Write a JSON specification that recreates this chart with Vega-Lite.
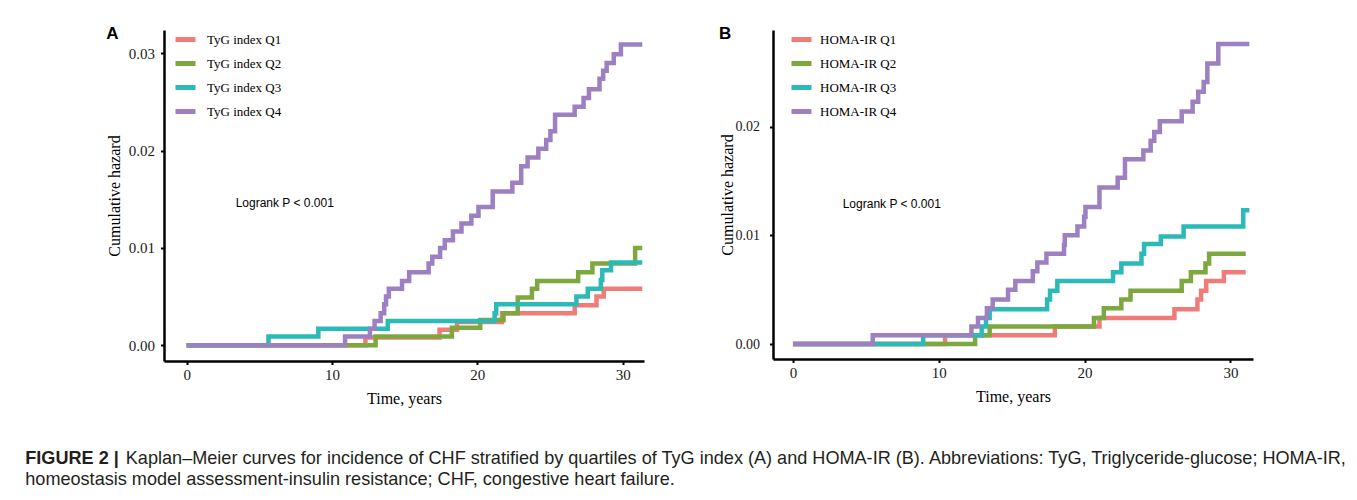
{
  "$schema": "https://vega.github.io/schema/vega-lite/v6.json",
  "padding": {"left": 25, "top": 25, "right": 5, "bottom": 5},
  "background": "white",
  "datasets": {
    "A": [
      {"g": "TyG index Q1", "t": 0, "h": 0}, {"g": "TyG index Q1", "t": 12.3, "h": 0.0008}, {"g": "TyG index Q1", "t": 17.4, "h": 0.0016}, {"g": "TyG index Q1", "t": 18.6, "h": 0.0024}, {"g": "TyG index Q1", "t": 21.7, "h": 0.0033}, {"g": "TyG index Q1", "t": 26.7, "h": 0.0041}, {"g": "TyG index Q1", "t": 28.2, "h": 0.005}, {"g": "TyG index Q1", "t": 28.7, "h": 0.0058}, {"g": "TyG index Q1", "t": 31.35, "h": 0.0058},
      {"g": "TyG index Q2", "t": 0, "h": 0}, {"g": "TyG index Q2", "t": 13.0, "h": 0.0009}, {"g": "TyG index Q2", "t": 18.25, "h": 0.0018}, {"g": "TyG index Q2", "t": 20.2, "h": 0.0026}, {"g": "TyG index Q2", "t": 21.8, "h": 0.0033}, {"g": "TyG index Q2", "t": 22.78, "h": 0.0049}, {"g": "TyG index Q2", "t": 23.76, "h": 0.0058}, {"g": "TyG index Q2", "t": 24.12, "h": 0.0066}, {"g": "TyG index Q2", "t": 26.94, "h": 0.0075}, {"g": "TyG index Q2", "t": 27.92, "h": 0.0084}, {"g": "TyG index Q2", "t": 30.86, "h": 0.01}, {"g": "TyG index Q2", "t": 31.35, "h": 0.01},
      {"g": "TyG index Q3", "t": 0, "h": 0}, {"g": "TyG index Q3", "t": 5.63, "h": 0.0009}, {"g": "TyG index Q3", "t": 9.06, "h": 0.0017}, {"g": "TyG index Q3", "t": 13.84, "h": 0.0025}, {"g": "TyG index Q3", "t": 21.19, "h": 0.0033}, {"g": "TyG index Q3", "t": 21.3, "h": 0.0042}, {"g": "TyG index Q3", "t": 26.82, "h": 0.005}, {"g": "TyG index Q3", "t": 27.6, "h": 0.0058}, {"g": "TyG index Q3", "t": 28.5, "h": 0.0067}, {"g": "TyG index Q3", "t": 28.6, "h": 0.0077}, {"g": "TyG index Q3", "t": 29.2, "h": 0.0085}, {"g": "TyG index Q3", "t": 31.35, "h": 0.0085},
      {"g": "TyG index Q4", "t": 0, "h": 0}, {"g": "TyG index Q4", "t": 10.9, "h": 0.0009}, {"g": "TyG index Q4", "t": 12.61, "h": 0.0017}, {"g": "TyG index Q4", "t": 12.93, "h": 0.0025}, {"g": "TyG index Q4", "t": 13.35, "h": 0.0033}, {"g": "TyG index Q4", "t": 13.59, "h": 0.0042}, {"g": "TyG index Q4", "t": 13.72, "h": 0.005}, {"g": "TyG index Q4", "t": 13.91, "h": 0.0058}, {"g": "TyG index Q4", "t": 14.82, "h": 0.0066}, {"g": "TyG index Q4", "t": 15.31, "h": 0.0075}, {"g": "TyG index Q4", "t": 16.65, "h": 0.0084}, {"g": "TyG index Q4", "t": 16.9, "h": 0.0091}, {"g": "TyG index Q4", "t": 17.44, "h": 0.01}, {"g": "TyG index Q4", "t": 17.76, "h": 0.0108}, {"g": "TyG index Q4", "t": 18.32, "h": 0.0117}, {"g": "TyG index Q4", "t": 18.91, "h": 0.0125}, {"g": "TyG index Q4", "t": 19.59, "h": 0.0133}, {"g": "TyG index Q4", "t": 20.08, "h": 0.0142}, {"g": "TyG index Q4", "t": 21.06, "h": 0.0158}, {"g": "TyG index Q4", "t": 22.41, "h": 0.0167}, {"g": "TyG index Q4", "t": 23.02, "h": 0.0184}, {"g": "TyG index Q4", "t": 23.46, "h": 0.0193}, {"g": "TyG index Q4", "t": 24.2, "h": 0.0202}, {"g": "TyG index Q4", "t": 24.74, "h": 0.0211}, {"g": "TyG index Q4", "t": 25.03, "h": 0.022}, {"g": "TyG index Q4", "t": 25.35, "h": 0.0237}, {"g": "TyG index Q4", "t": 26.7, "h": 0.0245}, {"g": "TyG index Q4", "t": 27.31, "h": 0.0254}, {"g": "TyG index Q4", "t": 27.68, "h": 0.0263}, {"g": "TyG index Q4", "t": 28.41, "h": 0.0274}, {"g": "TyG index Q4", "t": 28.66, "h": 0.0282}, {"g": "TyG index Q4", "t": 28.9, "h": 0.029}, {"g": "TyG index Q4", "t": 29.39, "h": 0.0299}, {"g": "TyG index Q4", "t": 29.88, "h": 0.0309}, {"g": "TyG index Q4", "t": 31.35, "h": 0.0309}
    ],
    "B": [
      {"g": "HOMA-IR Q1", "t": 0, "h": 0}, {"g": "HOMA-IR Q1", "t": 10.43, "h": 0.0008}, {"g": "HOMA-IR Q1", "t": 17.96, "h": 0.0016}, {"g": "HOMA-IR Q1", "t": 21.02, "h": 0.0024}, {"g": "HOMA-IR Q1", "t": 26.16, "h": 0.0032}, {"g": "HOMA-IR Q1", "t": 27.74, "h": 0.0041}, {"g": "HOMA-IR Q1", "t": 27.99, "h": 0.0049}, {"g": "HOMA-IR Q1", "t": 28.34, "h": 0.0058}, {"g": "HOMA-IR Q1", "t": 29.55, "h": 0.0066}, {"g": "HOMA-IR Q1", "t": 31.05, "h": 0.0066},
      {"g": "HOMA-IR Q2", "t": 0, "h": 0}, {"g": "HOMA-IR Q2", "t": 12.49, "h": 0.0008}, {"g": "HOMA-IR Q2", "t": 13.49, "h": 0.0016}, {"g": "HOMA-IR Q2", "t": 20.64, "h": 0.0024}, {"g": "HOMA-IR Q2", "t": 21.32, "h": 0.0033}, {"g": "HOMA-IR Q2", "t": 22.52, "h": 0.0041}, {"g": "HOMA-IR Q2", "t": 23.15, "h": 0.0049}, {"g": "HOMA-IR Q2", "t": 26.66, "h": 0.0058}, {"g": "HOMA-IR Q2", "t": 27.29, "h": 0.0066}, {"g": "HOMA-IR Q2", "t": 28.29, "h": 0.0074}, {"g": "HOMA-IR Q2", "t": 28.54, "h": 0.0083}, {"g": "HOMA-IR Q2", "t": 31.05, "h": 0.0083},
      {"g": "HOMA-IR Q3", "t": 0, "h": 0}, {"g": "HOMA-IR Q3", "t": 8.93, "h": 0.0008}, {"g": "HOMA-IR Q3", "t": 12.94, "h": 0.0016}, {"g": "HOMA-IR Q3", "t": 13.24, "h": 0.0024}, {"g": "HOMA-IR Q3", "t": 13.49, "h": 0.0032}, {"g": "HOMA-IR Q3", "t": 17.43, "h": 0.0041}, {"g": "HOMA-IR Q3", "t": 17.63, "h": 0.0049}, {"g": "HOMA-IR Q3", "t": 18.13, "h": 0.0058}, {"g": "HOMA-IR Q3", "t": 21.95, "h": 0.0066}, {"g": "HOMA-IR Q3", "t": 22.52, "h": 0.0074}, {"g": "HOMA-IR Q3", "t": 23.9, "h": 0.0083}, {"g": "HOMA-IR Q3", "t": 24.08, "h": 0.0092}, {"g": "HOMA-IR Q3", "t": 25.23, "h": 0.0099}, {"g": "HOMA-IR Q3", "t": 26.79, "h": 0.0108}, {"g": "HOMA-IR Q3", "t": 30.88, "h": 0.0123}, {"g": "HOMA-IR Q3", "t": 31.3, "h": 0.0123},
      {"g": "HOMA-IR Q4", "t": 0, "h": 0}, {"g": "HOMA-IR Q4", "t": 5.47, "h": 0.0008}, {"g": "HOMA-IR Q4", "t": 12.24, "h": 0.0016}, {"g": "HOMA-IR Q4", "t": 12.69, "h": 0.0024}, {"g": "HOMA-IR Q4", "t": 13.3, "h": 0.0033}, {"g": "HOMA-IR Q4", "t": 13.7, "h": 0.0041}, {"g": "HOMA-IR Q4", "t": 14.75, "h": 0.005}, {"g": "HOMA-IR Q4", "t": 15.25, "h": 0.0058}, {"g": "HOMA-IR Q4", "t": 16.45, "h": 0.0067}, {"g": "HOMA-IR Q4", "t": 16.76, "h": 0.0075}, {"g": "HOMA-IR Q4", "t": 17.38, "h": 0.0083}, {"g": "HOMA-IR Q4", "t": 18.59, "h": 0.0091}, {"g": "HOMA-IR Q4", "t": 18.64, "h": 0.01}, {"g": "HOMA-IR Q4", "t": 19.51, "h": 0.0108}, {"g": "HOMA-IR Q4", "t": 19.97, "h": 0.0117}, {"g": "HOMA-IR Q4", "t": 20.06, "h": 0.0126}, {"g": "HOMA-IR Q4", "t": 21.02, "h": 0.0144}, {"g": "HOMA-IR Q4", "t": 22.27, "h": 0.0153}, {"g": "HOMA-IR Q4", "t": 22.77, "h": 0.017}, {"g": "HOMA-IR Q4", "t": 24.03, "h": 0.0178}, {"g": "HOMA-IR Q4", "t": 24.53, "h": 0.0187}, {"g": "HOMA-IR Q4", "t": 24.78, "h": 0.0195}, {"g": "HOMA-IR Q4", "t": 25.16, "h": 0.0205}, {"g": "HOMA-IR Q4", "t": 26.66, "h": 0.0214}, {"g": "HOMA-IR Q4", "t": 27.41, "h": 0.0223}, {"g": "HOMA-IR Q4", "t": 27.79, "h": 0.0232}, {"g": "HOMA-IR Q4", "t": 28.17, "h": 0.0241}, {"g": "HOMA-IR Q4", "t": 28.42, "h": 0.0258}, {"g": "HOMA-IR Q4", "t": 29.17, "h": 0.0276}, {"g": "HOMA-IR Q4", "t": 31.3, "h": 0.0276}
    ],
    "notesA": [{"t": 3.37, "h": 0.0146, "label": "Logrank P < 0.001"}],
    "notesB": [{"t": 3.41, "h": 0.0129, "label": "Logrank P < 0.001"}]
  },
  "title": {
    "text": "FIGURE 2 |",
    "subtitle": ["\u200b\u00a0\u00a0\u00a0\u00a0\u00a0\u00a0\u00a0\u00a0\u00a0\u00a0\u00a0\u00a0\u00a0\u00a0\u00a0\u00a0\u00a0\u00a0\u00a0\u00a0Kaplan–Meier curves for incidence of CHF stratified by quartiles of TyG index (A) and HOMA-IR (B). Abbreviations: TyG, Triglyceride-glucose; HOMA-IR,", "homeostasis model assessment-insulin resistance; CHF, congestive heart failure."],
    "orient": "bottom",
    "anchor": "start",
    "frame": "bounds",
    "font": "Liberation Sans",
    "fontSize": 18.1,
    "fontWeight": "bold",
    "color": "#231f20",
    "subtitleFont": "Liberation Sans",
    "subtitleFontSize": 18.1,
    "subtitleColor": "#231f20",
    "subtitleLineHeight": 21,
    "subtitlePadding": -18,
    "offset": 43,
    "dx": -81
  },
  "hconcat": [
    {
      "width": 480,
      "height": 331,
      "title": {"text": "A", "anchor": "start", "frame": "bounds", "font": "Liberation Sans", "fontSize": 17, "fontWeight": "bold", "color": "black", "offset": -16},
      "layer": [
        {
          "data": {"name": "A"},
          "mark": {"type": "line", "interpolate": "step-after", "strokeWidth": 4.5, "strokeCap": "butt"},
          "encoding": {
            "x": {"field": "t", "type": "quantitative", "scale": {"domain": [-1.56, 31.47], "nice": false, "zero": false}, "axis": {"title": "Time, years", "values": [0, 10, 20, 30], "format": "d"}},
            "y": {"field": "h", "type": "quantitative", "scale": {"domain": [-0.00162, 0.0324], "nice": false, "zero": false}, "axis": {"title": "Cumulative hazard", "values": [0, 0.01, 0.02, 0.03], "format": ".2f", "labelPadding": 6, "titlePadding": 6}},
            "color": {"field": "g", "type": "nominal", "scale": {"domain": ["TyG index Q1", "TyG index Q2", "TyG index Q3", "TyG index Q4"], "range": ["#F07C78", "#7DA73F", "#2BBAB8", "#9C80C2"]}, "legend": {"symbolOffset": 12, "labelOffset": 9}}
          }
        },
        {
          "data": {"name": "notesA"},
          "mark": {"type": "text", "align": "left", "baseline": "middle", "font": "Liberation Sans", "fontSize": 12, "color": "black"},
          "encoding": {"x": {"field": "t", "type": "quantitative"}, "y": {"field": "h", "type": "quantitative"}, "text": {"field": "label"}}
        }
      ]
    },
    {
      "width": 480,
      "height": 329,
      "title": {"text": "B", "anchor": "start", "frame": "bounds", "font": "Liberation Sans", "fontSize": 17, "fontWeight": "bold", "color": "black", "offset": -16},
      "layer": [
        {
          "data": {"name": "B"},
          "mark": {"type": "line", "interpolate": "step-after", "strokeWidth": 4.5, "strokeCap": "butt"},
          "encoding": {
            "x": {"field": "t", "type": "quantitative", "scale": {"domain": [-1.37, 31.55], "nice": false, "zero": false}, "axis": {"title": "Time, years", "values": [0, 10, 20, 30], "format": "d"}},
            "y": {"field": "h", "type": "quantitative", "scale": {"domain": [-0.00138, 0.02889], "nice": false, "zero": false}, "axis": {"title": "Cumulative hazard", "values": [0, 0.01, 0.02], "format": ".2f", "labelPadding": 10, "labelFontSize": 14, "titlePadding": 0}},
            "color": {"field": "g", "type": "nominal", "scale": {"domain": ["HOMA-IR Q1", "HOMA-IR Q2", "HOMA-IR Q3", "HOMA-IR Q4"], "range": ["#F07C78", "#7DA73F", "#2BBAB8", "#9C80C2"]}, "legend": {"symbolOffset": 19, "labelOffset": 6}}
          }
        },
        {
          "data": {"name": "notesB"},
          "mark": {"type": "text", "align": "left", "baseline": "middle", "font": "Liberation Sans", "fontSize": 12, "color": "black"},
          "encoding": {"x": {"field": "t", "type": "quantitative"}, "y": {"field": "h", "type": "quantitative"}, "text": {"field": "label"}}
        }
      ]
    }
  ],
  "spacing": 67,
  "resolve": {"scale": {"color": "independent"}},
  "config": {
    "view": {"stroke": null},
    "axis": {"domainColor": "black", "domainWidth": 2.5, "tickColor": "black", "tickWidth": 2, "tickSize": 3.5, "labelFont": "Liberation Serif", "labelFontSize": 15, "labelColor": "#1a1a1a", "titleFont": "Liberation Serif", "titleFontSize": 16, "titleFontWeight": "normal", "titleColor": "black", "grid": false},
    "axisX": {"labelPadding": 3, "titlePadding": 8},
    "legend": {"title": null, "orient": "top-left", "offset": -3, "padding": 0, "symbolType": "stroke", "symbolStrokeWidth": 5, "symbolSize": 400, "labelFont": "Liberation Serif", "labelFontSize": 13, "labelColor": "black", "rowPadding": 1}
  }
}
